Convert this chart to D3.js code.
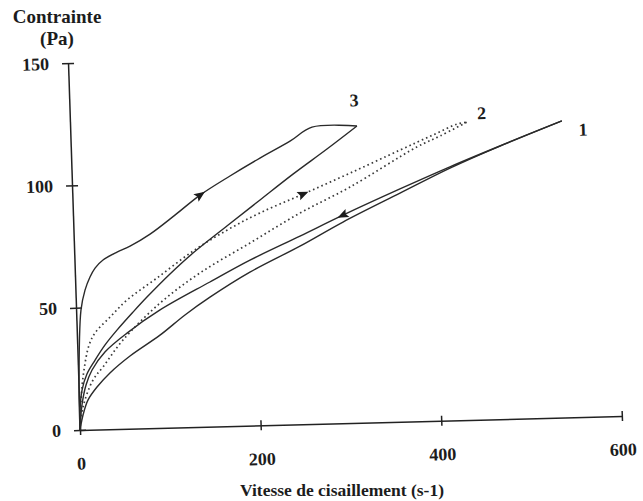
<!DOCTYPE html>
<html>
<head>
<meta charset="utf-8">
<script src="https://cdn.jsdelivr.net/npm/d3@7/dist/d3.min.js"></script>
<style>
  body { margin: 0; background: #fff; }
  svg text { font-family: "Liberation Serif", "Times New Roman", serif; font-weight: bold; fill: #1c1c1c; }
</style>
</head>
<body>
<div id="chart"></div>
<script>
// shear rate (s-1) vs stress (Pa)
// every branch is listed from the origin outwards
const curve1Up = [[0, 0], [3.9, 6.1], [10, 12.2], [20.4, 17.4], [35.2, 23], [58, 29.7], [91.9, 37.9],
  [120.3, 45.9], [148.6, 52.9], [193.7, 62.7], [250, 72.8], [298.5, 82.2], [362.6, 93.4],
  [418.8, 103.1], [474.8, 111.6], [544.3, 121.2]];
const curve1Down = [[0, 0], [3.1, 10.2], [8.3, 18.3], [15.5, 24.4], [30.4, 31.6], [55.5, 39.1],
  [92.9, 48.2], [149.1, 59.1], [194.2, 67.6], [250.4, 76.9], [298.7, 85], [362.7, 95.1],
  [418.8, 103.6], [474.8, 111.6], [544.3, 121.2]];
const curve2Up = [[0, 0], [2.2, 12.3], [6.6, 24.5], [13.1, 34.6], [20.1, 39.5], [37.3, 45.8],
  [56.7, 52.6], [90.7, 61.3], [131.5, 71.9], [169.8, 80.1], [206.9, 86.8], [255.2, 94],
  [308, 102.1], [364.1, 111], [401.1, 116.8], [428.1, 121], [439.2, 121.7]];
const curve2Down = [[0, 0], [4.2, 9.4], [16.2, 20.3], [27.7, 25.5], [50.8, 36.3], [93.1, 51],
  [138.4, 62.9], [194.8, 74.6], [251.2, 86.3], [307.4, 96.4], [383, 112.1], [408.8, 116.3],
  [439.2, 121.7]];
const curve3Up = [[0, 0], [0.5, 18], [5.4, 49], [10.6, 57.1], [16.6, 62.4], [22.5, 66],
  [31.6, 69.2], [47.4, 72.3], [62, 74.6], [84.6, 79.3], [112.8, 86.8], [141.3, 94.7],
  [175.1, 102.2], [208.9, 109.2], [242.8, 115.8], [267.6, 121.3], [317.4, 121.3]];
const curve3Down = [[0, 0], [0.7, 8.2], [3.7, 16.3], [9.7, 22.8], [19.2, 28.4], [30.8, 34.5],
  [44.5, 40.4], [62.9, 47.6], [78.9, 53.6], [105.2, 62.8], [131.4, 71.1], [169.9, 81.8],
  [207.5, 92.1], [244.9, 102.3], [283.4, 112.2], [317.4, 121.3]];

const xTicks = [0, 200, 400, 600];
const yTicks = [0, 50, 100, 150];
const curveNames = ["1", "2", "3"];

const width = 643, height = 501;
// the scan is slightly skewed, so the plot frame is tilted a little
const tiltX = 1.48 * Math.PI / 180, tiltY = 1.87 * Math.PI / 180;
const origin = { x: 80, y: 430 };

const svg = d3.select("#chart").append("svg")
  .attr("width", width)
  .attr("height", height);

const x = d3.scaleLinear().domain([0, 600]).range([0, 542]);
const y = d3.scaleLinear().domain([0, 150]).range([0, -367]);

const plot = svg.append("g")
  .attr("transform", `matrix(${Math.cos(tiltX)},${-Math.sin(tiltX)},${Math.sin(tiltY)},${Math.cos(tiltY)},${origin.x},${origin.y})`);

// axes, ticks cross the line
const xAxis = plot.append("g")
  .call(d3.axisBottom(x).tickValues(xTicks).tickSizeOuter(0).tickSizeInner(0));
xAxis.selectAll(".tick line").attr("y1", -5).attr("y2", 5);
xAxis.selectAll(".tick text").attr("y", 27);

const yAxis = plot.append("g")
  .call(d3.axisLeft(y).tickValues(yTicks).tickSizeOuter(0).tickSizeInner(0));
yAxis.selectAll(".tick line").attr("x1", -6).attr("x2", 6);
yAxis.selectAll(".tick text").attr("x", -19);

plot.selectAll(".domain, .tick line").attr("stroke", "#222").attr("stroke-width", 1.5);
plot.selectAll("g").attr("font-family", null).attr("font-size", null);
plot.selectAll(".tick text").style("font-size", "18px");

// flow curves
const line = d3.line()
  .x(d => x(d[0]))
  .y(d => y(d[1]))
  .curve(d3.curveCatmullRom.alpha(0.5));

const branches = [
  { data: curve1Up, dotted: false },
  { data: curve1Down, dotted: false },
  { data: curve2Up, dotted: true },
  { data: curve2Down, dotted: true },
  { data: curve3Up, dotted: false },
  { data: curve3Down, dotted: false }
];

plot.selectAll("path.flow")
  .data(branches)
  .enter()
  .append("path")
  .attr("class", "flow")
  .attr("d", d => line(d.data))
  .attr("fill", "none")
  .attr("stroke", d => d.dotted ? "#3a3a3a" : "#2a2a2a")
  .attr("stroke-width", d => d.dotted ? 1.7 : 1.4)
  .attr("stroke-dasharray", d => d.dotted ? "1.6 3" : null);

// direction arrows: series, point index, +1 outwards / -1 back to origin
const arrows = [
  { data: curve3Up, at: 11, dir: 1 },
  { data: curve2Up, at: 11, dir: 1 },
  { data: curve1Down, at: 10, dir: -1 }
];

plot.selectAll("path.arrow")
  .data(arrows)
  .enter()
  .append("path")
  .attr("class", "arrow")
  .attr("d", "M6,0L-5,-4.5L-3,0L-5,4.5Z")
  .attr("fill", "#1c1c1c")
  .attr("transform", d => {
    const p0 = d.data[d.at - 1], p = d.data[d.at], p1 = d.data[d.at + 1];
    let ang = Math.atan2(y(p1[1]) - y(p0[1]), x(p1[0]) - x(p0[0])) * 180 / Math.PI;
    if (d.dir < 0) ang += 180;
    return `translate(${x(p[0])},${y(p[1])}) rotate(${ang})`;
  });

// curve numbers next to the far ends
const ends = [curve1Up[curve1Up.length - 1], curve2Up[curve2Up.length - 1], curve3Up[curve3Up.length - 1]];
const labelOffsets = [[21, 9], [15, -9], [-2, -26]];
plot.selectAll("text.curve-name")
  .data(curveNames)
  .enter()
  .append("text")
  .attr("class", "curve-name")
  .attr("x", (d, i) => x(ends[i][0]) + labelOffsets[i][0])
  .attr("y", (d, i) => y(ends[i][1]) + labelOffsets[i][1])
  .attr("dy", "0.35em")
  .attr("text-anchor", "middle")
  .style("font-size", "18px")
  .text(d => d);

// axis titles
svg.append("text")
  .attr("x", 57).attr("y", 23)
  .attr("text-anchor", "middle")
  .style("font-size", "19px")
  .text("Contrainte");
svg.append("text")
  .attr("x", 57).attr("y", 45)
  .attr("text-anchor", "middle")
  .style("font-size", "19px")
  .text("(Pa)");
svg.append("text")
  .attr("x", 342).attr("y", 496)
  .attr("text-anchor", "middle")
  .style("font-size", "17.5px")
  .text("Vitesse de cisaillement (s-1)");
</script>
</body>
</html>
